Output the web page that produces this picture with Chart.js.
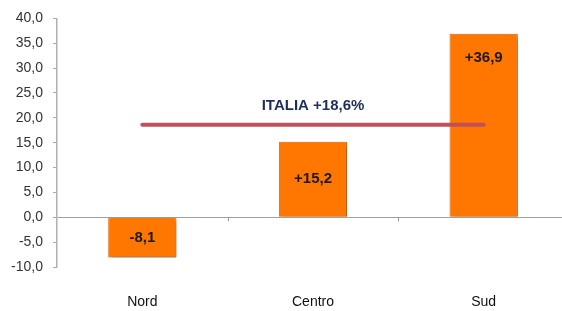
<!DOCTYPE html>
<html>
<head>
<meta charset="utf-8">
<script src="https://cdn.jsdelivr.net/npm/chart.js@4.4.1/dist/chart.umd.min.js"></script>
<style>
  html, body { margin: 0; padding: 0; background: #fff; }
  #wrap { width: 562px; height: 311px; }
</style>
</head>
<body>
<div id="wrap"><canvas id="myChart"></canvas></div>
<script>
const areas = ['Nord', 'Centro', 'Sud']
const variazione = [-8.1, 15.2, 36.9]
const italia = 18.6
const italiaLabel = 'ITALIA +18,6%'

const fmt = v => v.toFixed(1).replace('.', ',')
const signed = v => (v > 0 ? '+' : '') + fmt(v)

// bar shadow + value labels, italia label, little ticks on the zero line
const decorations = {
    id: 'decorations',
    afterLayout(chart) {
        // the original plot runs a little past the right edge of the picture
        const x = chart.scales.x
        x.right += 7
        x.width += 7
        x.configure()
    },
    beforeDatasetDraw(chart, args) {
        if (args.index !== 0) return
        const ctx = chart.ctx
        ctx.save()
        ctx.shadowColor = 'rgba(0,0,0,0.35)'
        ctx.shadowBlur = 4
        ctx.shadowOffsetX = 2
        ctx.shadowOffsetY = 2
    },
    afterDatasetDraw(chart, args) {
        if (args.index === 0) chart.ctx.restore()
    },
    afterDraw(chart) {
        const ctx = chart.ctx
        const x = chart.scales.x
        const y = chart.scales.y
        const y0 = y.getPixelForValue(0)

        ctx.save()
        ctx.strokeStyle = '#999'
        ctx.lineWidth = 1
        for (let i = 0; i < areas.length - 1; i++) {
            const bx = Math.round((x.getPixelForValue(i) + x.getPixelForValue(i + 1)) / 2) + 0.5
            ctx.beginPath()
            ctx.moveTo(bx, y0)
            ctx.lineTo(bx, y0 + 4)
            ctx.stroke()
        }

        ctx.font = 'bold 15px "Liberation Sans", Arial, sans-serif'
        ctx.fillStyle = '#1a1a1a'
        ctx.textAlign = 'center'
        ctx.textBaseline = 'middle'
        chart.getDatasetMeta(0).data.forEach((bar, i) => {
            const top = Math.min(bar.y, bar.base)
            const bottom = Math.max(bar.y, bar.base)
            let ly = (top + bottom) / 2
            if (bottom - top > 100) ly = top + 24
            ctx.fillText(signed(variazione[i]), bar.x, ly)
        })

        const line = chart.getDatasetMeta(1).data
        const cx = (line[0].x + line[line.length - 1].x) / 2
        ctx.fillStyle = '#1f2d5c'
        ctx.fillText(italiaLabel, cx, y.getPixelForValue(italia) - 19)
        ctx.restore()
    }
}

new Chart(document.getElementById('myChart').getContext('2d'), {
    type: 'bar',
    data: {
        labels: areas,
        datasets: [{
            data: variazione,
            backgroundColor: '#ff7600',
            borderColor: '#ee6a00',
            borderWidth: 1,
            barPercentage: 0.4,
            categoryPercentage: 1,
            order: 2
        },
        {
            type: 'line',
            data: areas.map(() => italia),
            borderColor: '#c0505a',
            borderWidth: 4,
            pointRadius: 0,
            borderCapStyle: 'round',
            order: 1
        }]
    },
    options: {
        responsive: true,
        maintainAspectRatio: false,
        animation: false,
        layout: { padding: { top: 17, right: 0, bottom: 0, left: 0 } },
        plugins: {
            legend: { display: false },
            tooltip: { enabled: false }
        },
        scales: {
            x: {
                grid: { display: false, drawTicks: false },
                border: { display: false },
                ticks: {
                    color: '#111',
                    padding: 27,
                    font: { family: '"Liberation Sans", Arial, sans-serif', size: 14 }
                },
                afterFit: scale => { scale.height = 44 }
            },
            y: {
                min: -10,
                max: 40,
                ticks: {
                    stepSize: 5,
                    color: '#333',
                    padding: 10,
                    font: { family: '"Liberation Sans", Arial, sans-serif', size: 14 },
                    callback: v => fmt(v)
                },
                grid: {
                    color: c => c.tick && c.tick.value === 0 ? '#a0a0a0' : 'rgba(0,0,0,0)',
                    tickColor: '#aaa',
                    tickLength: 4
                },
                border: { color: '#b0b0b0', width: 1.5 },
                afterFit: scale => { scale.width = 57 }
            }
        }
    },
    plugins: [decorations]
})
</script>
</body>
</html>
